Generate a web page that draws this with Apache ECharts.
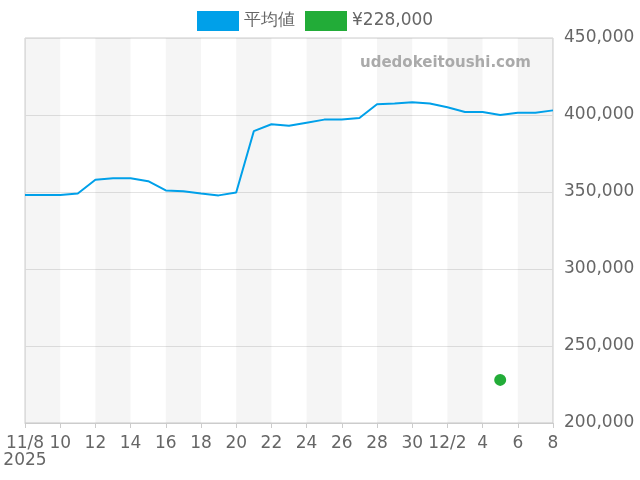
<!DOCTYPE html>
<html><head><meta charset="utf-8">
<script src="https://cdn.jsdelivr.net/npm/echarts@6/dist/echarts.min.js"></script>
<style>html,body{margin:0;padding:0}#c{width:640px;height:480px}</style>
</head><body><div id="c"></div>
<script>
const dates = ['11/8','11/9','11/10','11/11','11/12','11/13','11/14','11/15','11/16','11/17','11/18','11/19','11/20','11/21','11/22','11/23','11/24','11/25','11/26','11/27','11/28','11/29','11/30','12/1','12/2','12/3','12/4','12/5','12/6','12/7','12/8'];
const avgValues = [348000,348000,348000,349000,358000,359000,359000,357000,351000,350500,349000,347800,349700,389500,394000,393000,395000,397000,397000,398000,407000,407500,408300,407500,405000,402000,402000,400000,401500,401500,403000];
const priceValues = [null,null,null,null,null,null,null,null,null,null,null,null,null,null,null,null,null,null,null,null,null,null,null,null,null,null,null,228000,null,null,null];
const chart = echarts.init(document.getElementById('c'));
chart.setOption({
  animation:false,
  textStyle:{fontFamily:'DejaVu Sans'},
  legend:{top:6,left:192,itemWidth:42,itemHeight:20,itemGap:10,textStyle:{fontSize:17,color:'#666'},
    data:[{name:'平均値',icon:'rect'},{name:'¥228,000',icon:'rect'}]},
  graphic:[{type:'text',left:360,top:56,z:100,style:{text:'udedokeitoushi.com',fill:'#aaa',fontSize:15,fontWeight:'bold',fontFamily:'DejaVu Sans'}}],
  grid:{left:25,right:87,top:38,bottom:57,show:true,borderColor:'#ccc',borderWidth:1},
  xAxis:{type:'category',data:dates,boundaryGap:false,
    axisLine:{lineStyle:{color:'#ccc'}},axisTick:{show:true,interval:1,lineStyle:{color:'#ccc'}},
    axisLabel:{interval:1,color:'#666',fontSize:17,margin:12,
      formatter:(v,i)=>{ if(i===0) return v+'\n2025'; const [m,d]=v.split('/'); return d==='2'?v:d; }},
    splitArea:{show:true,interval:1,areaStyle:{color:['rgba(0,0,0,0.04)','rgba(0,0,0,0)']}},
    splitLine:{show:false}},
  yAxis:{type:'value',position:'right',min:200000,max:450000,interval:50000,
    axisLine:{show:false},axisTick:{show:false},
    axisLabel:{color:'#666',fontSize:17,margin:11,formatter:v=>v.toLocaleString('en-US')},
    splitLine:{lineStyle:{color:'#e3e3e3'}}},
  series:[
    {name:'平均値',type:'line',data:avgValues,symbol:'none',itemStyle:{color:'#00a0e9'},lineStyle:{width:2,color:'#00a0e9'}},
    {name:'¥228,000',type:'line',data:priceValues,symbol:'circle',symbolSize:12,showAllSymbol:true,itemStyle:{color:'#22ac38'},lineStyle:{width:0}}
  ]
});
</script></body></html>
